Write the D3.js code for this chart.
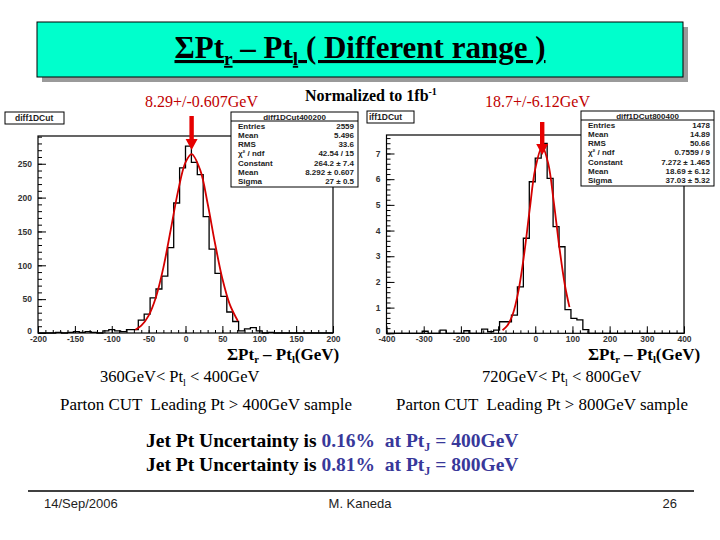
<!DOCTYPE html>
<html>
<head>
<meta charset="utf-8">
<script src="https://cdn.jsdelivr.net/npm/d3@7"></script>
<style>
body { margin: 0; background: #fff; }
svg { display: block; }
text { white-space: pre; }
</style>
</head>
<body>
<div id="slide"></div>
<script>
// left plot: 50 bins of 8 GeV starting at -200
var binsLeft = [0, 0, 0, 1, 0, 1, 2, 1, 2, 1,
                0, 3, 5, 3, 2, 5, 5, 19, 28, 52,
                65, 84, 126, 192, 244, 276, 252, 234, 172, 124,
                88, 54, 31, 17, 3, 6, 8, 3, 0, 1,
                0, 0, 0, 0, 0, 0, 0, 0, 0, 0];
// right plot: 50 bins of 16 GeV starting at -400 (normalized)
var binsRight = [0, 0, 0, 0, 0, 0, 0.08, 0, 0, 0.12,
                 0, 0, 0, 0.1, 0, 0, 0.16, 0.06, 0.12, 0.45,
                 0.45, 0.71, 1.81, 3.7, 5.9, 6.82, 7.39, 6.03, 4.15, 3.37,
                 0.92, 0.58, 0.52, 0.14, 0, 0, 0, 0, 0, 0,
                 0, 0, 0, 0, 0, 0, 0, 0, 0, 0];
var binStartLeft = -200, binWidthLeft = 8;
var binStartRight = -400, binWidthRight = 16;

// gaussian fit curves
var fitLeft = [[-68, 4.9], [-60, 10.8], [-50, 25.7], [-40, 53.3], [-30, 96.6], [-20, 152.6],
               [-10, 210], [0, 252], [8.3, 264.2], [20, 240.5], [30, 191.3], [40, 132.6],
               [50, 80.2], [60, 42.3], [71, 17.8]];
var fitRight = [[-88, 0.12], [-75, 0.3], [-60, 0.76], [-45, 1.66], [-30, 3.06], [-15, 4.81],
                [0, 6.4], [18.7, 7.27], [35, 6.6], [50, 5.09], [65, 3.33], [80, 1.85], [92, 1.02]];

var peakLeft = 8.29, peakRight = 18.7;
var peakLabelLeft = "8.29+/-0.607GeV", peakLabelRight = "18.7+/-6.12GeV";

var xTicksLeft = [-200, -150, -100, -50, 0, 50, 100, 150, 200];
var yTicksLeft = [0, 50, 100, 150, 200, 250];
var xTicksRight = [-400, -300, -200, -100, 0, 100, 200, 300, 400];
var yTicksRight = [0, 1, 2, 3, 4, 5, 6, 7];

var statTitleLeft = "diff1DCut400200";
var statLabels = ["Entries", "Mean", "RMS", "\u03c7\u00b2 / ndf", "Constant", "Mean", "Sigma"];
var statValuesLeft = ["2559", "5.496", "33.6", "42.54 / 15", "264.2 \u00b1 7.4", "8.292 \u00b1 0.607", "27 \u00b1 0.5"];
var statTitleRight = "diff1DCut800400";
var statValuesRight = ["1478", "14.89", "50.66", "0.7559 / 9", "7.272 \u00b1 1.465", "18.69 \u00b1 6.12", "37.03 \u00b1 5.32"];

var W = 720, H = 540;
var svg = d3.select("#slide").append("svg").attr("width", W).attr("height", H);
svg.append("rect").attr("width", W).attr("height", H).attr("fill", "#fff");

var serif = "'Liberation Serif', 'Times New Roman', serif";
var sans = "'Liberation Sans', Arial, sans-serif";

// writes text made of parts, parts with sub:true are subscripts
function richText(x, y, parts, size, weight, anchor) {
    var t = svg.append("text")
        .attr("x", x).attr("y", y)
        .attr("text-anchor", anchor || "start")
        .style("font-family", serif)
        .style("font-size", size + "px")
        .style("font-weight", weight || "normal");
    var shift = 0;
    parts.forEach(function (p) {
        var s = t.append("tspan").text(p.t);
        if (p.fill) s.attr("fill", p.fill);
        if (p.sub) {
            s.style("font-size", (size * 0.62) + "px").attr("dy", size * 0.22);
            shift = size * 0.22;
        } else if (shift) {
            s.attr("dy", -shift);
            shift = 0;
        }
    });
    return t;
}

//title box
svg.append("rect").attr("x", 42).attr("y", 27).attr("width", 646).attr("height", 55).attr("fill", "#9a9a9a");
svg.append("rect").attr("x", 37).attr("y", 22).attr("width", 646).attr("height", 55)
    .attr("fill", "#00ffcc").attr("stroke", "#000").attr("stroke-width", 1);
richText(360, 58, [{t: "\u03a3Pt"}, {t: "r", sub: true}, {t: " \u2013 Pt"}, {t: "l", sub: true},
                   {t: " ( Different range )"}], 31, "bold", "middle")
    .style("text-decoration", "underline");

function drawPanel(o) {
    var x = d3.scaleLinear().domain(o.xDomain).range(o.xRange);
    var y = d3.scaleLinear().domain(o.yDomain).range(o.yRange);
    var g = svg.append("g");

    // little title box
    g.append("rect").attr("x", o.nameBox[0]).attr("y", o.nameBox[1])
        .attr("width", o.nameBox[2]).attr("height", o.nameBox[3])
        .attr("fill", "#fff").attr("stroke", "#000");
    g.append("text").attr("x", o.nameBox[0] + o.namePad).attr("y", o.nameBox[1] + 9)
        .style("font-family", sans).style("font-size", "8.5px").style("font-weight", "bold")
        .attr("fill", "#222").text(o.name);

    // minor ticks
    g.append("g").attr("transform", "translate(0," + o.yRange[0] + ")")
        .call(d3.axisBottom(x).tickValues(d3.range(o.xDomain[0], o.xDomain[1] + 1, o.xMinor))
            .tickSize(-3).tickFormat(""))
        .call(function (a) { a.select(".domain").remove(); });
    g.append("g").attr("transform", "translate(" + o.xRange[0] + ",0)")
        .call(d3.axisLeft(y).tickValues(d3.range(0, o.yDomain[1], o.yMinor))
            .tickSize(-4).tickFormat(""))
        .call(function (a) { a.select(".domain").remove(); });

    // major ticks with labels
    var ax = g.append("g").attr("transform", "translate(0," + o.yRange[0] + ")")
        .call(d3.axisBottom(x).tickValues(o.xTicks).tickSize(-7).tickPadding(3)
            .tickFormat(function (d) { return String(d); }));
    ax.select(".domain").remove();
    var ay = g.append("g").attr("transform", "translate(" + o.xRange[0] + ",0)")
        .call(d3.axisLeft(y).tickValues(o.yTicks).tickSize(-8).tickPadding(6)
            .tickFormat(function (d) { return String(d); }));
    ay.select(".domain").remove();
    // the "0" of the y axis sits a bit higher so it clears the first x label
    ay.selectAll(".tick text").filter(function (d) { return d === 0; }).attr("dy", "0.05em");
    g.selectAll(".tick line").attr("stroke", "#000");
    g.selectAll(".tick text").style("font-family", sans).style("font-size", "8.5px")
        .style("font-weight", "bold").attr("fill", "#333");

    // frame
    g.append("rect").attr("x", o.xRange[0]).attr("y", o.yRange[1])
        .attr("width", o.xRange[1] - o.xRange[0]).attr("height", o.yRange[0] - o.yRange[1])
        .attr("fill", "none").attr("stroke", "#000").attr("stroke-width", 1.2);

    // histogram outline
    var pts = [[o.binStart, 0]];
    o.bins.forEach(function (v, i) {
        pts.push([o.binStart + i * o.binWidth, v]);
        pts.push([o.binStart + (i + 1) * o.binWidth, v]);
    });
    pts.push([o.binStart + o.bins.length * o.binWidth, 0]);
    g.append("path").attr("d", d3.line().x(function (d) { return x(d[0]); })
            .y(function (d) { return y(d[1]); })(pts))
        .attr("fill", "none").attr("stroke", "#000").attr("stroke-width", 1.3);

    // fit
    g.append("path").attr("d", d3.line().curve(d3.curveCatmullRom)
            .x(function (d) { return x(d[0]); }).y(function (d) { return y(d[1]); })(o.fit))
        .attr("fill", "none").attr("stroke", "#d40000").attr("stroke-width", 1.8);

    // peak label (partly under the stat box)
    g.append("text").attr("x", o.labelX).attr("y", 107)
        .style("font-family", serif).style("font-size", "16px").attr("fill", "#c00000")
        .text(o.peakLabel);

    // stat box
    var sb = o.statBox;
    g.append("rect").attr("x", sb[0]).attr("y", sb[1]).attr("width", sb[2]).attr("height", sb[3])
        .attr("fill", "#fff").attr("stroke", "#000");
    g.append("line").attr("x1", sb[0]).attr("x2", sb[0] + sb[2]).attr("y1", sb[1] + 9).attr("y2", sb[1] + 9)
        .attr("stroke", "#000");
    g.append("text").attr("x", sb[0] + sb[2] / 2).attr("y", sb[1] + 7.5).attr("text-anchor", "middle")
        .style("font-family", sans).style("font-size", "8px").style("font-weight", "bold")
        .attr("fill", "#222").text(o.statTitle);
    statLabels.forEach(function (lab, i) {
        var yy = sb[1] + 16.5 + i * 9.3;
        g.append("text").attr("x", sb[0] + 7).attr("y", yy)
            .style("font-family", sans).style("font-size", "8px").style("font-weight", "bold")
            .attr("fill", "#222").text(lab);
        g.append("text").attr("x", sb[0] + sb[2] - 4).attr("y", yy).attr("text-anchor", "end")
            .style("font-family", sans).style("font-size", "8px").style("font-weight", "bold")
            .attr("fill", "#222").text(o.statValues[i]);
    });

    // red arrow at the fitted peak
    var ax0 = x(o.peak);
    g.append("path")
        .attr("d", "M" + (ax0 - 2.2) + "," + o.arrow[0] + "V" + (o.arrow[1] - 11) +
            "H" + (ax0 - 6) + "L" + ax0 + "," + o.arrow[1] + "L" + (ax0 + 6) + "," + (o.arrow[1] - 11) +
            "H" + (ax0 + 2.2) + "V" + o.arrow[0] + "Z")
        .attr("fill", "#e60000");
}

drawPanel({
    xDomain: [-200, 200], xRange: [38, 333], yDomain: [0, 291], yRange: [333, 136],
    xTicks: xTicksLeft, yTicks: yTicksLeft, xMinor: 10, yMinor: 10,
    bins: binsLeft, binStart: binStartLeft, binWidth: binWidthLeft, fit: fitLeft,
    peak: peakLeft, peakLabel: peakLabelLeft, labelX: 145, arrow: [116, 150],
    name: "diff1DCut", nameBox: [5, 112, 59, 12], namePad: 10,
    statBox: [231, 112, 127, 75], statTitle: statTitleLeft, statValues: statValuesLeft
});

drawPanel({
    xDomain: [-400, 400], xRange: [386.5, 684], yDomain: [0, 7.72], yRange: [333.3, 135],
    xTicks: xTicksRight, yTicks: yTicksRight, xMinor: 20, yMinor: 0.2,
    bins: binsRight, binStart: binStartRight, binWidth: binWidthRight, fit: fitRight,
    peak: peakRight, peakLabel: peakLabelRight, labelX: 485, arrow: [122, 155],
    name: "iff1DCut", nameBox: [367, 111, 47, 12], namePad: 2,
    statBox: [581, 111, 133, 75], statTitle: statTitleRight, statValues: statValuesRight
});

// normalization note
var norm = svg.append("text").attr("x", 305).attr("y", 101)
    .style("font-family", serif).style("font-size", "16px").style("font-weight", "bold")
    .text("Normalized to 1fb");
norm.append("tspan").attr("dy", -6).style("font-size", "10px").text("-1");

// axis titles and captions
[227, 588].forEach(function (xx) {
    richText(xx, 359.5, [{t: "\u03a3Pt"}, {t: "r", sub: true}, {t: " \u2013 Pt"}, {t: "l", sub: true},
                         {t: "(GeV)"}], 17, "bold");
});
richText(100, 382, [{t: "360GeV< Pt"}, {t: "l", sub: true}, {t: " < 400GeV"}], 16.5);
richText(482, 382, [{t: "720GeV< Pt"}, {t: "l", sub: true}, {t: " < 800GeV"}], 16.5);
richText(60, 410, [{t: "Parton CUT  Leading Pt > 400GeV sample"}], 16)
    .attr("textLength", 292).attr("lengthAdjust", "spacingAndGlyphs");
richText(396, 410, [{t: "Parton CUT  Leading Pt > 800GeV sample"}], 16)
    .attr("textLength", 292).attr("lengthAdjust", "spacingAndGlyphs");

var blue = "#38389a";
richText(146, 447, [{t: "Jet Pt Uncertainty is "}, {t: "0.16%  at Pt", fill: blue}, {t: "J", sub: true, fill: blue},
                    {t: " = 400GeV", fill: blue}], 19.5, "bold");
richText(146, 471, [{t: "Jet Pt Uncertainty is "}, {t: "0.81%  at Pt", fill: blue}, {t: "J", sub: true, fill: blue},
                    {t: " = 800GeV", fill: blue}], 19.5, "bold");

// footer
svg.append("line").attr("x1", 28).attr("x2", 694).attr("y1", 491).attr("y2", 491)
    .attr("stroke", "#000").attr("stroke-width", 1.5);
svg.append("text").attr("x", 44).attr("y", 508).style("font-family", sans).style("font-size", "13px")
    .attr("fill", "#222").text("14/Sep/2006");
svg.append("text").attr("x", 360).attr("y", 508).attr("text-anchor", "middle").style("font-family", sans)
    .style("font-size", "13px").attr("fill", "#222").text("M. Kaneda");
svg.append("text").attr("x", 677).attr("y", 508).attr("text-anchor", "end").style("font-family", sans)
    .style("font-size", "13px").attr("fill", "#222").text("26");
</script>
</body>
</html>
